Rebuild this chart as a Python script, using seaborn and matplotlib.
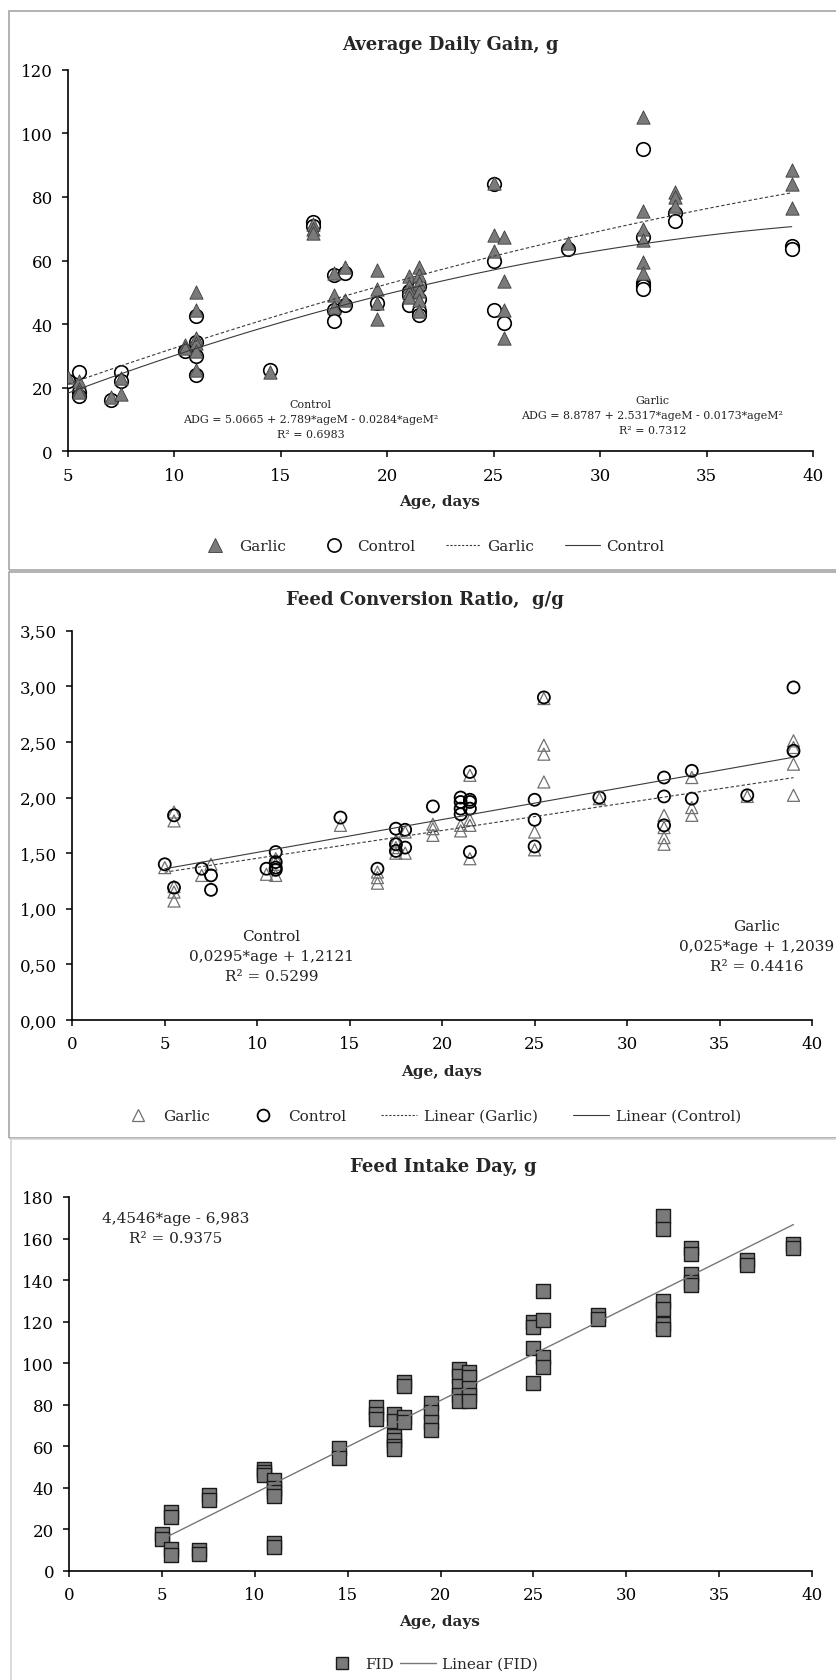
import numpy as np
import pandas as pd
import seaborn as sns
import matplotlib.pyplot as plt
from matplotlib.patches import Rectangle
from matplotlib.lines import Line2D
from matplotlib.ticker import FuncFormatter

sns.set_style('ticks')
plt.rcParams['font.family'] = ['DejaVu Serif']

#%% data
# Average daily gain, g
adg_garlic_age = [5, 5.5, 5.5, 5.5, 7, 7.5, 7.5, 10.5, 10.5, 11, 11, 11, 11, 11, 11, 14.5,
                  16.5, 16.5, 16.5, 17.5, 17.5, 17.5, 18, 18, 19.5, 19.5, 19.5, 19.5,
                  21, 21, 21, 21, 21.5, 21.5, 21.5, 21.5, 21.5, 21.5, 25, 25, 25,
                  25.5, 25.5, 25.5, 25.5, 28.5, 32, 32, 32, 32, 32, 32, 33.5, 33.5, 33.5,
                  39, 39, 39]
adg_garlic = [23.5, 22, 19.5, 18.5, 17, 23, 18, 33.5, 32.5, 50, 44.5, 35.5, 34, 31.5, 25.5, 25,
              71.5, 70, 68.5, 56, 49, 45.5, 58, 47.5, 57, 51, 46.5, 41.5,
              55, 52, 50, 48.5, 58, 55.5, 53, 50.5, 47.5, 44, 84.5, 68, 63,
              67.5, 53.5, 44.5, 35.5, 65.5, 105, 75.5, 70, 66.5, 59.5, 56, 81.5, 80, 77,
              88.5, 84, 76.5]
adg_control_age = [5, 5.5, 5.5, 5.5, 7, 7.5, 7.5, 10.5, 11, 11, 11, 11, 14.5, 16.5, 16.5,
                   17.5, 17.5, 17.5, 18, 18, 19.5, 21, 21, 21, 21.5, 21.5, 21.5, 21.5,
                   25, 25, 25, 25.5, 28.5, 32, 32, 32, 32, 32, 33.5, 33.5, 39, 39]
adg_control = [22, 25, 18.5, 17.5, 16, 25, 22, 31.5, 42.5, 34.5, 30, 24, 25.5, 72, 71,
               55.5, 44.5, 41, 56, 46, 46.5, 50.5, 49, 46, 52, 48, 44, 43,
               84, 60, 44.5, 40.5, 63.5, 95, 67.5, 53, 52, 51, 75, 72.5, 64.5, 63.5]
# quadratic fits printed on the chart (c0, c1, c2)
adg_fit_control = [5.0665, 2.789, -0.0284]
adg_fit_garlic = [8.8787, 2.5317, -0.0173]

# Feed conversion ratio, g/g
fcr_garlic_age = [5, 5.5, 5.5, 5.5, 5.5, 5.5, 7, 7.5, 10.5, 11, 11, 11, 14.5, 16.5, 16.5, 16.5,
                  17.5, 17.5, 17.5, 18, 18, 19.5, 19.5, 19.5, 21, 21, 21.5, 21.5, 21.5, 21.5,
                  25, 25, 25.5, 25.5, 25.5, 25.5, 28.5, 32, 32, 32, 32, 33.5, 33.5, 33.5,
                  36.5, 39, 39, 39, 39]
fcr_garlic = [1.37, 1.87, 1.79, 1.20, 1.15, 1.07, 1.30, 1.40, 1.31, 1.45, 1.40, 1.30, 1.75,
              1.33, 1.28, 1.23, 1.61, 1.55, 1.50, 1.69, 1.50, 1.76, 1.72, 1.66, 1.75, 1.70,
              2.20, 1.80, 1.75, 1.45, 1.69, 1.53, 2.89, 2.47, 2.39, 2.14, 1.99,
              1.84, 1.73, 1.64, 1.58, 2.18, 1.91, 1.84, 2.01, 2.51, 2.45, 2.30, 2.02]
fcr_control_age = [5, 5.5, 5.5, 7, 7.5, 7.5, 10.5, 11, 11, 11, 11, 14.5, 16.5, 17.5, 17.5, 17.5,
                   18, 18, 19.5, 21, 21, 21, 21, 21.5, 21.5, 21.5, 21.5, 21.5, 25, 25, 25,
                   25.5, 28.5, 32, 32, 32, 33.5, 33.5, 36.5, 39, 39]
fcr_control = [1.40, 1.84, 1.19, 1.36, 1.30, 1.17, 1.36, 1.51, 1.42, 1.37, 1.35, 1.82, 1.36,
               1.72, 1.58, 1.52, 1.71, 1.55, 1.92, 2.00, 1.96, 1.90, 1.85,
               2.23, 1.98, 1.96, 1.90, 1.51, 1.98, 1.80, 1.56, 2.90, 2.00,
               2.18, 2.01, 1.75, 2.24, 1.99, 2.02, 2.99, 2.42]
fcr_fit_control = [1.2121, 0.0295]
fcr_fit_garlic = [1.2039, 0.025]

# Feed intake per day, g
fid_age = [5, 5, 5.5, 5.5, 5.5, 5.5, 7, 7, 7.5, 7.5, 10.5, 10.5, 10.5, 11, 11, 11, 11, 11, 11,
           14.5, 14.5, 16.5, 16.5, 16.5, 17.5, 17.5, 17.5, 17.5, 17.5, 17.5, 18, 18, 18, 18,
           19.5, 19.5, 19.5, 19.5, 21, 21, 21, 21, 21, 21.5, 21.5, 21.5, 21.5, 21.5,
           25, 25, 25, 25, 25.5, 25.5, 25.5, 25.5, 28.5, 28.5, 32, 32, 32, 32, 32, 32,
           33.5, 33.5, 33.5, 33.5, 33.5, 36.5, 36.5, 39, 39]
fid = [18, 15.5, 28.5, 26, 10.5, 7.5, 10, 8, 36.5, 34, 49, 47.5, 46, 44, 40, 38, 36, 13.5, 11.5,
       59, 54.5, 79, 75.5, 73, 75.5, 72, 65, 63, 60, 58.5, 91, 89, 74, 71.5,
       81, 76.5, 71.5, 68, 97, 94, 89, 84.5, 82, 96, 93.5, 88, 84.5, 82,
       120, 117.5, 107.5, 90.5, 135, 121, 103, 98, 123, 121.5, 171, 164.5, 130, 126, 119, 116.5,
       155.5, 152.5, 143, 139, 137.5, 149.5, 147.5, 157.5, 155.5]
fid_fit = [-6.983, 4.4546]

df_adg_g = pd.DataFrame({'age': adg_garlic_age, 'val': adg_garlic})
df_adg_c = pd.DataFrame({'age': adg_control_age, 'val': adg_control})
df_fcr_g = pd.DataFrame({'age': fcr_garlic_age, 'val': fcr_garlic})
df_fcr_c = pd.DataFrame({'age': fcr_control_age, 'val': fcr_control})
df_fid = pd.DataFrame({'age': fid_age, 'val': fid})

# trend lines over the sampled age range
age_line = np.linspace(5, 39, 120)
def poly(c, x):
    return sum(ci * x ** i for i, ci in enumerate(c))

#%% figure
W, H = 837, 1681
fig = plt.figure(figsize=(W / 100, H / 100), dpi=100)
fig.patch.set_facecolor('white')

def px_axes(x0, x1, y0, y1):
    return fig.add_axes([x0 / W, 1 - y1 / H, (x1 - x0) / W, (y1 - y0) / H])

def fx(x):
    return x / W

def fy(y):
    return 1 - y / H

# grey panel frames (right side runs off the page)
for (x0, y0, y1, col) in [(9, 12, 571, '#a6a6a6'), (9, 573, 1139, '#a6a6a6'), (11, 1140, 1700, '#d4d4d4')]:
    fig.add_artist(Rectangle((fx(x0), fy(y1)), 1.2, (y1 - y0) / H, transform=fig.transFigure,
                             fill=False, ec=col, lw=1.2))

tick_fs = 12
title_fs = 13
leg_fs = 11
line_col = '#3a3a3a'

def style_axes(ax):
    sns.despine(ax=ax)
    for s in ['left', 'bottom']:
        ax.spines[s].set_linewidth(1.2)
        ax.spines[s].set_color('black')
    ax.tick_params(direction='out', length=4.5, width=1.1, labelsize=tick_fs, pad=6.5, colors='black')
    ax.set_xlabel('')
    ax.set_ylabel('')
    ax.set_facecolor('none')

# ============ panel 1: average daily gain
ax = px_axes(68, 813, 70.7, 452.3)
sns.scatterplot(data=df_adg_c, x='age', y='val', ax=ax, marker='o', s=95, color='white',
                edgecolor='black', linewidth=1.2, zorder=3, legend=False)
sns.scatterplot(data=df_adg_g, x='age', y='val', ax=ax, marker='^', s=92, color='#7a7a7a',
                edgecolor='#3c3c3c', linewidth=0.6, zorder=4, legend=False)
sns.lineplot(x=age_line, y=poly(adg_fit_garlic, age_line), ax=ax, color=line_col, lw=0.8, zorder=5)
ax.lines[-1].set_dashes((3, 2))
sns.lineplot(x=age_line, y=poly(adg_fit_control, age_line), ax=ax, color=line_col, lw=0.8, zorder=5)
ax.set(xlim=[5, 40], ylim=[0, 120], xticks=range(5, 41, 5), yticks=range(0, 121, 20))
style_axes(ax)
eq_fs = 7.9
ax.text(16.4, 10.2, 'Control\nADG = 5.0665 + 2.789*ageM - 0.0284*ageM²\nR² = 0.6983',
        ha='center', va='center', fontsize=eq_fs, color='#222222', linespacing=1.62)
ax.text(32.45, 11.4, 'Garlic\nADG = 8.8787 + 2.5317*ageM - 0.0173*ageM²\nR² = 0.7312',
        ha='center', va='center', fontsize=eq_fs, color='#222222', linespacing=1.62)
fig.text(fx(450), fy(45), 'Average Daily Gain, g', ha='center', va='center', fontsize=title_fs,
         fontweight='bold')
fig.text(fx(440), fy(502), 'Age, days', ha='center', va='center', fontsize=11, fontweight='bold')
h1 = [Line2D([], [], ls='none', marker='^', ms=9.5, mfc='#7a7a7a', mec='#3c3c3c', mew=0.6),
      Line2D([], [], ls='none', marker='o', ms=9.5, mfc='white', mec='black', mew=1.2),
      Line2D([], [], color=line_col, lw=0.8, dashes=(2, 1.5)),
      Line2D([], [], color=line_col, lw=0.8)]
fig.legend(h1, ['Garlic', 'Control', 'Garlic', 'Control'], loc='center', ncol=4,
           bbox_to_anchor=(fx(431), fy(547)), frameon=False, fontsize=leg_fs,
           handlelength=2.3, columnspacing=2.0, handletextpad=0.4)

# ============ panel 2: feed conversion ratio
ax = px_axes(72.3, 812, 631.7, 1021)
sns.scatterplot(data=df_fcr_g, x='age', y='val', ax=ax, marker='^', s=75, facecolor='none',
                edgecolor='#707070', linewidth=0.9, zorder=3, legend=False)
sns.scatterplot(data=df_fcr_c, x='age', y='val', ax=ax, marker='o', s=75, facecolor='none',
                edgecolor='black', linewidth=1.3, zorder=4, legend=False)
sns.lineplot(x=age_line, y=poly(fcr_fit_garlic, age_line), ax=ax, color=line_col, lw=0.8, zorder=5)
ax.lines[-1].set_dashes((3, 2))
sns.lineplot(x=age_line, y=poly(fcr_fit_control, age_line), ax=ax, color=line_col, lw=0.8, zorder=5)
ax.set(xlim=[0, 40], ylim=[0, 3.5], xticks=range(0, 41, 5), yticks=np.arange(0, 3.51, 0.5))
ax.yaxis.set_major_formatter(FuncFormatter(lambda v, p: ('%.2f' % v).replace('.', ',')))
style_axes(ax)
ax.text(10.78, 0.575, 'Control\n0,0295*age + 1,2121\nR² = 0.5299', ha='center', va='center',
        fontsize=11, color='#222222', linespacing=1.55)
ax.text(37.0, 0.665, 'Garlic\n0,025*age + 1,2039\nR² = 0.4416', ha='center', va='center',
        fontsize=11, color='#222222', linespacing=1.55)
fig.text(fx(425), fy(600), 'Feed Conversion Ratio,  g/g', ha='center', va='center', fontsize=title_fs,
         fontweight='bold')
fig.text(fx(442), fy(1072), 'Age, days', ha='center', va='center', fontsize=11, fontweight='bold')
h2 = [Line2D([], [], ls='none', marker='^', ms=8.5, mfc='none', mec='#707070', mew=0.9),
      Line2D([], [], ls='none', marker='o', ms=8.5, mfc='none', mec='black', mew=1.3),
      Line2D([], [], color=line_col, lw=0.8, dashes=(2, 1.5)),
      Line2D([], [], color=line_col, lw=0.8)]
fig.legend(h2, ['Garlic', 'Control', 'Linear (Garlic)', 'Linear (Control)'], loc='center', ncol=4,
           bbox_to_anchor=(fx(431), fy(1117)), frameon=False, fontsize=leg_fs,
           handlelength=2.3, columnspacing=2.3, handletextpad=0.5)

# ============ panel 3: feed intake per day
ax = px_axes(69.3, 812, 1198, 1572)
sns.scatterplot(data=df_fid, x='age', y='val', ax=ax, marker='s', s=92, color='#7a7a7a',
                edgecolor='#1a1a1a', linewidth=1.0, zorder=3, legend=False)
sns.lineplot(x=age_line, y=poly(fid_fit, age_line), ax=ax, color='#777777', lw=1.0, zorder=4)
ax.set(xlim=[0, 40], ylim=[0, 180], xticks=range(0, 41, 5), yticks=range(0, 181, 20))
style_axes(ax)
ax.text(5.73, 165, '4,4546*age - 6,983\nR² = 0.9375', ha='center', va='center',
        fontsize=11, color='#222222', linespacing=1.5)
fig.text(fx(443), fy(1167), 'Feed Intake Day, g', ha='center', va='center', fontsize=title_fs,
         fontweight='bold')
fig.text(fx(440), fy(1622), 'Age, days', ha='center', va='center', fontsize=11, fontweight='bold')
h3 = [Line2D([], [], ls='none', marker='s', ms=9, mfc='#7a7a7a', mec='#1a1a1a', mew=1.0),
      Line2D([], [], color='#777777', lw=1.0)]
fig.legend(h3, ['FID', 'Linear (FID)'], loc='center', ncol=2,
           bbox_to_anchor=(fx(431), fy(1665)), frameon=False, fontsize=leg_fs,
           handlelength=2.3, columnspacing=0.4, handletextpad=0.4)

fig.savefig('out.png', dpi=100, facecolor='white')
